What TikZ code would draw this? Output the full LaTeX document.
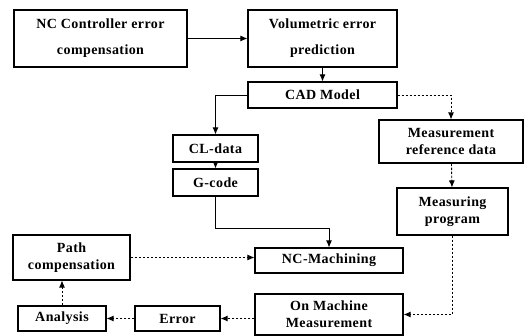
\documentclass[tikz,border=0pt]{standalone}
\usepackage{fontspec}
\setmainfont{Liberation Serif}[LetterSpace=3]
\usetikzlibrary{arrows.meta}
\begin{document}
\begin{tikzpicture}[x=1pt,y=-1pt,
  box/.style={draw,line width=1.1pt,inner sep=0pt,align=center,font=\fontsize{14}{17}\selectfont\bfseries},
  flow/.style={line width=0.9pt,-{Latex[length=7pt,width=6pt]}},
  dflow/.style={flow,dash pattern=on 2.5pt off 1.5pt}]
\useasboundingbox (0,0) rectangle (532,336);
\node[box,minimum width=173pt,minimum height=57pt,font=\fontsize{14}{26}\selectfont\bfseries] (nc) at (100.5,38.5) {NC Controller error\\compensation};
\node[box,minimum width=149pt,minimum height=57pt,font=\fontsize{14}{26}\selectfont\bfseries] (vol) at (322.5,38.5) {Volumetric error\\prediction};
\node[box,minimum width=149pt,minimum height=26pt] (cad) at (322.5,95) {CAD Model};
\node[box,minimum width=85pt,minimum height=27pt] (cl) at (215.5,148.5) {CL-data};
\node[box,minimum width=85pt,minimum height=27pt] (gc) at (215.5,182.5) {G-code};
\node[box,minimum width=144pt,minimum height=43pt] (mrd) at (451,141.5) {Measurement\\reference data};
\node[box,minimum width=111pt,minimum height=47pt] (mp) at (452.5,211.5) {Measuring\\program};
\node[box,minimum width=148pt,minimum height=25pt] (ncm) at (329,260.5) {NC-Machining};
\node[box,minimum width=148pt,minimum height=41pt] (omm) at (329,314.5) {On Machine\\Measurement};
\node[box,minimum width=117pt,minimum height=45pt] (pc) at (71.5,257.5) {Path\\compensation};
\node[box,minimum width=88pt,minimum height=25pt] (an) at (62,318.5) {Analysis};
\node[box,minimum width=85pt,minimum height=25pt] (err) at (177.5,318.5) {Error};
\coordinate (g1) at (329,228);
\draw[flow] (nc) -- (vol);
\draw[flow] (vol) -- (cad);
\draw[flow] (cad.west) -| (cl.north);
\draw[flow] (cl) -- (gc);
\draw[flow] (gc.south) |- (g1) -- (ncm.north);
\draw[dflow] (cad.east) -| (mrd.north);
\draw[dflow] (mrd) -- (mp);
\draw[dflow] (mp.south) |- (omm.east);
\draw[dflow] (omm.west |- err.east) -- (err.east);
\draw[dflow] (err) -- (an);
\draw[dflow] (an.north) -- (an.north |- pc.south);
\draw[dflow] (pc.east) -- (pc.east -| ncm.west);
\end{tikzpicture}
\end{document}
